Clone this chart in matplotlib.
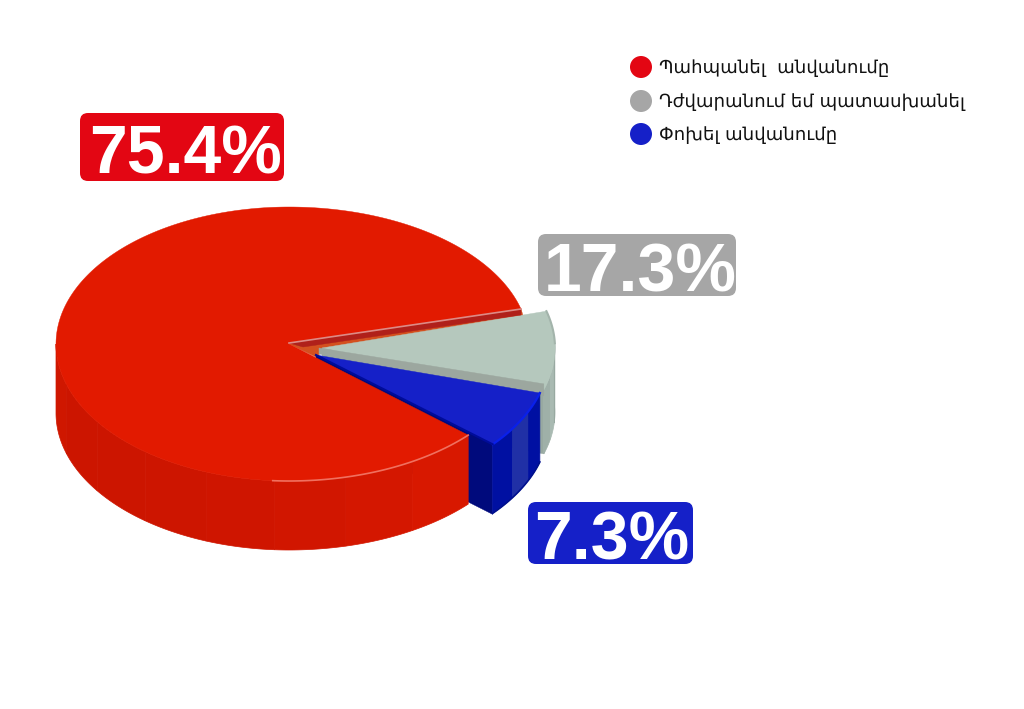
import numpy as np
import matplotlib
matplotlib.use('Agg')
import matplotlib.pyplot as plt
from matplotlib.patches import Circle, FancyBboxPatch

# Values printed on the chart
labels = ['Պահպանել  անվանումը', 'Դժվարանում եմ պատասխանել', 'Փոխել անվանումը']
percent_text = ['75.4%', '17.3%', '7.3%']

# Slice angles as drawn in the picture (degrees, start and end on the ellipse)
red_angles = [14.8, 318.3]
gray_angles = [-17.8, 15.6]
blue_angles = [-40.7, -16.1]

# Colours
red_top = '#e21a00'
red_sides = ['#cf1700', '#cc1500', '#cc1500', '#cd1500', '#cf1500', '#d11600', '#d41700', '#d81800']
gray_top = '#b5c8bd'
gray_sides = ['#9fb0a8', '#a9bab2', '#98a9a1']
blue_top = '#1520c8'
blue_sides = ['#0010a2', '#2030a6', '#0010a2']

RX, RY = 233, 137
RX_RIGHT = 240   # the red disc is a bit wider on its right side
DEPTH = 69


def rim(cx, cy, t0, t1, n=120, rx_right=RX):
    t = np.radians(np.linspace(t0, t1, n))
    c = np.cos(t)
    return cx + np.where(c > 0, rx_right, RX) * c, cy - RY * np.sin(t)


def sector(ax, cx, cy, t0, t1, color, rx_right=RX):
    x, y = rim(cx, cy, t0, t1, 300, rx_right)
    ax.fill(np.r_[cx, x], np.r_[cy, y], color=color, lw=0.3)


def outer_wall(ax, cx, cy, t0, t1, colors, depth=DEPTH, rx_right=RX):
    # one band of the outer wall per colour
    edges = np.linspace(t0, t1, len(colors) + 1)
    for c, a, b in zip(colors, edges[:-1], edges[1:]):
        x, y = rim(cx, cy, a, b, 40, rx_right)
        ax.fill(np.r_[x, x[::-1]], np.r_[y, y[::-1] + depth], color=c, lw=0.5)


def cut_wall(ax, cx, cy, t, color, depth):
    x, y = rim(cx, cy, t, t, 1)
    ax.fill([cx, x[0], x[0], cx], [cy, y[0], y[0] + depth, cy + depth], color=color, lw=0.3)


fig = plt.figure(figsize=(10.24, 7.09), dpi=100, facecolor='white')
ax = fig.add_axes([0, 0, 1, 1])
ax.set_xlim(0, 1024)
ax.set_ylim(709, 0)
ax.axis('off')

rx, ry = 289, 344
gx, gy = 322, 348
bx, by = 316, 355
px, py = rim(rx, ry, red_angles[0], red_angles[0], 1, RX_RIGHT)

# inside of the red cut, seen through the gap
ax.fill([rx, px[0], px[0] + 3, gx, bx], [ry, py[0], py[0] + 10, gy + 4, by + 2], color='#d4501f', lw=0.3)

# gray slice
cut_wall(ax, gx, gy, gray_angles[0], '#98a9a1', 64)
outer_wall(ax, gx, gy, gray_angles[0], 2, gray_sides, depth=64)
sector(ax, gx, gy, gray_angles[0], gray_angles[1], gray_top)
ex, ey = rim(gx, gy, gray_angles[0], gray_angles[0], 1)
ax.fill([gx - 3, ex[0], ex[0], gx - 3], [gy, ey[0] - 6, ey[0] + 6, gy + 6], color='#9ca79f', lw=0.3)
ax.plot(*rim(gx, gy, 2, gray_angles[1], 30), color='#a3b4ab', lw=1.5)

# blue slice
cut_wall(ax, bx, by, blue_angles[0], '#000a7c', DEPTH + 1)
outer_wall(ax, bx, by, blue_angles[0], blue_angles[1], blue_sides)
sector(ax, bx, by, blue_angles[0], blue_angles[1], blue_top)
ax.plot(*rim(bx, by, blue_angles[0], blue_angles[1], 60), color='#0a20ea', lw=1.6)
ex, ey = rim(bx, by, blue_angles[0], blue_angles[0], 1)
ax.plot([bx, ex[0]], [by, ey[0]], color='#000c9a', lw=1.5)
lx, ly = rim(bx, by, blue_angles[0], blue_angles[1], 60)
ax.plot(lx, ly + DEPTH, color='#00108c', lw=1.2)

# red slice
outer_wall(ax, rx, ry, 180, red_angles[1], red_sides, rx_right=RX_RIGHT)
sector(ax, rx, ry, red_angles[0], red_angles[1], red_top, rx_right=RX_RIGHT)
ax.plot(*rim(rx, ry, 266, red_angles[1], 80, RX_RIGHT), color='#f0705f', lw=1.2)
# bevel along the upper cut of the red slice
ax.fill([rx, px[0], px[0], rx + 14], [ry - 1, py[0], py[0] + 6, ry + 3], color='#b0201a', lw=0.3)
ax.plot([rx, px[0]], [ry - 1, py[0]], color='#dd8a85', lw=1.2)

# percent labels in rounded boxes
boxes = [(80, 113, 204, 68), (538, 234, 198, 62), (528, 502, 165, 62)]
box_colors = ['#e30613', '#a6a6a6', '#1520c8']
text_dx = [3, 3, 1]
for txt, (x, y, w, h), c, dx in zip(percent_text, boxes, box_colors, text_dx):
    ax.add_patch(FancyBboxPatch((x + 8, y + 8), w - 16, h - 16, boxstyle='round,pad=8,rounding_size=8',
                                fc=c, ec='none', zorder=5))
    ax.text(x + w / 2 + dx, y + h / 2 + 8, txt, color='white', ha='center', va='center', fontsize=49,
            fontweight='bold', family='Liberation Sans', zorder=6)

# legend
legend_y = [67, 101, 134]
for lab, y, c in zip(labels, legend_y, box_colors):
    ax.add_patch(Circle((641, y), 11, fc=c, ec='none'))
    ax.text(659, y + 1, lab, color='#111111', ha='left', va='center', fontsize=13.05, family='DejaVu Sans')

fig.savefig('out.png', dpi=100, facecolor='white')
